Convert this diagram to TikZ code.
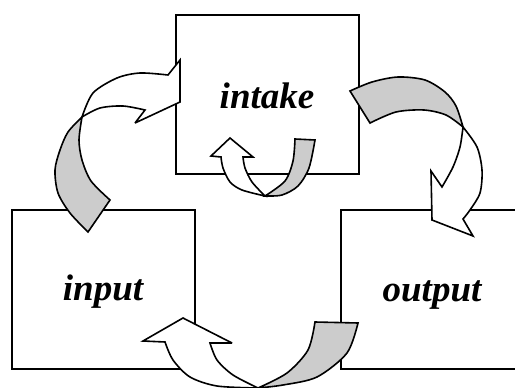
\documentclass[tikz,border=0pt]{standalone}
\usepackage{fontspec}
\setmainfont{Liberation Serif}
\begin{document}
\begin{tikzpicture}[x=1pt,y=-1pt,
  stage/.style={draw=black, line width=1.8pt, fill=white, rectangle, anchor=north west, inner sep=0pt},
  stagelabel/.style={anchor=base, inner sep=0pt, font=\fontsize{37}{40}\selectfont\bfseries\itshape},
  frontface/.style={draw=black, line width=1.6pt, fill=white, line join=miter, miter limit=4},
  backface/.style={draw=black, line width=1.6pt, fill=black!20, line join=miter, miter limit=4}]
\useasboundingbox (0,0) rectangle (515,388);
\clip (0,0) rectangle (515,388);

% the three stages
\node[stage, minimum width=183pt, minimum height=159pt] (intake) at (175,14) {};
\node[stage, minimum width=183pt, minimum height=159pt] (input) at (11,209) {};
\node[stage, minimum width=200pt, minimum height=159pt] (output) at (340,209) {};

\node[stagelabel] (intaketext) at (267,108) {intake};
\node[stagelabel] (inputtext) at (103,300) {input};
\node[stagelabel] (outputtext) at (432,301) {output};

% curved arrow: input -> intake
\path[backface] (82,117) -- plot[smooth] coordinates {(82,117) (68,132) (60,150) (55,170) (58,193) (70,213) (88,232)}
  -- (110,200) -- plot[smooth] coordinates {(110,200) (91,181) (82,160) (79,140) (82,117)} -- cycle;
\path[frontface] (82,117) -- plot[smooth] coordinates {(82,117) (93,93) (117,78) (140,73) (168,75)}
  -- (180,60) -- (180,102) -- (135,123) -- (145,110)
  -- plot[smooth] coordinates {(145,110) (123,106) (100,108) (82,117)} -- cycle;

% curved arrow: intake -> output
\path[backface] (350,91) -- plot[smooth] coordinates {(350,91) (372,82) (398,77) (425,80) (445,92) (456,106) (463,127)}
  -- plot[smooth] coordinates {(463,127) (446,115) (424,110) (396,112) (370,123)} -- cycle;
\path[frontface] (463,127) -- plot[smooth] coordinates {(463,127) (477,147) (482,170) (480,193) (470,210) (463,219)}
  -- (473,236) -- (432,220) -- (431,171) -- (442,187)
  -- plot[smooth] coordinates {(442,187) (453,167) (460,147) (463,127)} -- cycle;

% small loop arrow under the intake label
\path[frontface] (230,138) -- (211,156) -- (221,157)
  -- plot[smooth] coordinates {(221,157) (223,168) (230,182) (242,190) (265,196)}
  -- plot[smooth] coordinates {(265,196) (252,182) (245,168) (243,157)} -- (253,157) -- cycle;
\path[backface] (265,196) -- plot[smooth] coordinates {(265,196) (282,195) (298,186) (309,168) (315,140)}
  -- (295,139) -- plot[smooth] coordinates {(295,139) (293,161) (285,181) (265,196)} -- cycle;

% curved arrow: output -> input
\path[frontface] (183,318) -- (143,341) -- (165,342)
  -- plot[smooth] coordinates {(165,342) (173,360) (190,377) (217,386) (258,388)}
  -- plot[smooth] coordinates {(258,388) (233,375) (217,360) (210,343)} -- (232,343) -- cycle;
\path[backface] (258,388) -- plot[smooth] coordinates {(258,388) (283,385) (317,377) (347,353) (358,323)}
  -- (315,322) -- plot[smooth] coordinates {(315,322) (308,350) (287,373) (258,388)} -- cycle;
\end{tikzpicture}
\end{document}
